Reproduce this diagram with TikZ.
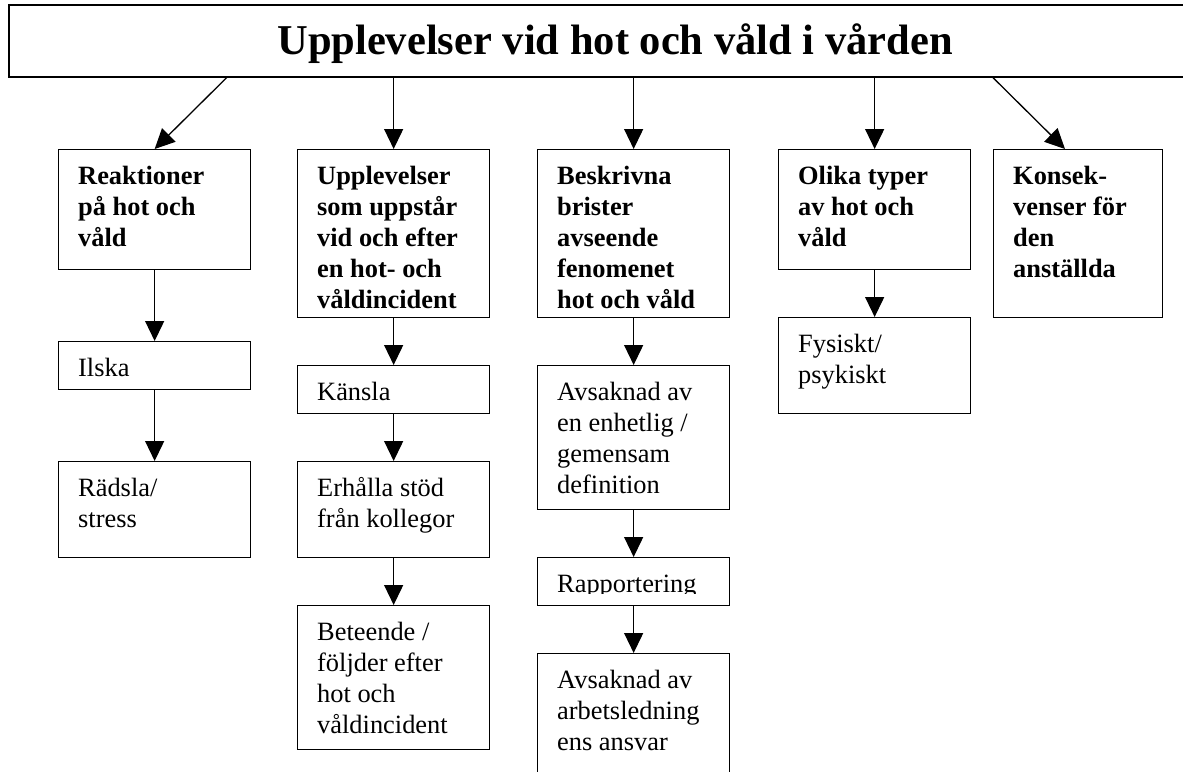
\documentclass[tikz,border=0pt]{standalone}
\usepackage{fontspec}
\setmainfont{Liberation Serif}
\usetikzlibrary{arrows.meta,calc}

\begin{document}
\begin{tikzpicture}[x=1pt,y=-1pt,
  box/.style={draw,line width=1.3pt,anchor=north west,inner sep=0pt,minimum width=192pt},
  txt/.style={anchor=base west,inner sep=0pt,font=\fontsize{26.4}{31}\selectfont},
  head/.style={txt,font=\fontsize{26.4}{31}\selectfont\bfseries},
  arr/.style={line width=1.3pt,-{Triangle[length=20pt,width=19pt]}}]
  \useasboundingbox (0,0) rectangle (1183,771);
  \clip (0,0) rectangle (1183,771);
  \node[draw,line width=1.3pt,inner sep=0pt,minimum width=1212pt,minimum height=72pt,
    text height=36pt,text depth=9pt,
    font=\fontsize{42.5}{50}\selectfont\bfseries] (title) at (615,41)
    {Upplevelser vid hot och våld i vården};
  % main boxes
  \node[box,minimum height=120pt] (reak) at (58,149) {};
  \node[box,minimum height=168pt] (upp) at (297,149) {};
  \node[box,minimum height=168pt] (besk) at (537,149) {};
  \node[box,minimum height=120pt] (olika) at (778,149) {};
  \node[box,minimum height=168pt,minimum width=169pt] (kons) at (993,149) {};
  % sub boxes
  \node[box,minimum height=48pt] (ilska) at (58,341) {};
  \node[box,minimum height=96pt] (radsla) at (58,461) {};
  \node[box,minimum height=48pt] (kansla) at (297,365) {};
  \node[box,minimum height=96pt] (erh) at (297,461) {};
  \node[box,minimum height=144pt] (bet) at (297,605) {};
  \node[box,minimum height=144pt] (avs1) at (537,365) {};
  \node[box,minimum height=48pt] (rapp) at (537,557) {};
  \node[box,minimum height=200pt] (avs2) at (537,653) {};
  \node[box,minimum height=96pt] (fys) at (778,317) {};

  \node[head] (reak-t) at ([shift={(20,35)}]reak.north west)
    {\parbox[t]{170pt}{Reaktioner\\på hot och\\våld}};
  \node[head] (upp-t) at ([shift={(20,35)}]upp.north west)
    {\parbox[t]{170pt}{Upplevelser\\som uppstår\\vid och efter\\en hot- och\\våldincident}};
  \node[head] (besk-t) at ([shift={(20,35)}]besk.north west)
    {\parbox[t]{170pt}{Beskrivna\\brister\\avseende\\fenomenet\\hot och våld}};
  \node[head] (olika-t) at ([shift={(20,35)}]olika.north west)
    {\parbox[t]{170pt}{Olika typer\\av hot och\\våld}};
  \node[head] (kons-t) at ([shift={(20,35)}]kons.north west)
    {\parbox[t]{150pt}{Konsek-\\venser för\\den\\anställda}};

  \node[txt] (ilska-t) at ([shift={(20,35)}]ilska.north west) {Ilska};
  \node[txt] (radsla-t) at ([shift={(20,35)}]radsla.north west)
    {\parbox[t]{170pt}{Rädsla/\\stress}};
  \node[txt] (kansla-t) at ([shift={(20,35)}]kansla.north west) {Känsla};
  \node[txt] (erh-t) at ([shift={(20,35)}]erh.north west)
    {\parbox[t]{170pt}{Erhålla stöd\\från kollegor}};
  \node[txt] (bet-t) at ([shift={(20,35)}]bet.north west)
    {\parbox[t]{170pt}{Beteende /\\följder efter\\hot och\\våldincident}};
  \node[txt] (avs1-t) at ([shift={(20,35)}]avs1.north west)
    {\parbox[t]{170pt}{Avsaknad av\\en enhetlig /\\gemensam\\definition}};
  \begin{scope}
    \clip (537,557) rectangle (729,593);
    \node[txt] (rapp-t) at ([shift={(20,35)}]rapp.north west) {Rapportering};
  \end{scope}
  \node[txt] (avs2-t) at ([shift={(20,35)}]avs2.north west)
    {\parbox[t]{170pt}{Avsaknad av\\arbetsledning\\ens ansvar}};
  \node[txt] (fys-t) at ([shift={(20,35)}]fys.north west)
    {\parbox[t]{170pt}{Fysiskt/\\psykiskt}};

  % arrows
  \draw[arr] ($(title.south -| reak.north)+(72,0)$) -- (reak.north);
  \foreach \b in {upp,besk,olika}
    \draw[arr] (title.south -| \b.north) -- (\b.north);
  \draw[arr] (title.south -| kons.north west) -- ($(kons.north west)+(72,0)$);
  \foreach \a/\b in {reak/ilska,ilska/radsla,upp/kansla,kansla/erh,erh/bet,
                     besk/avs1,avs1/rapp,rapp/avs2,olika/fys}
    \draw[arr] (\a.south) -- (\b.north);
\end{tikzpicture}
\end{document}
